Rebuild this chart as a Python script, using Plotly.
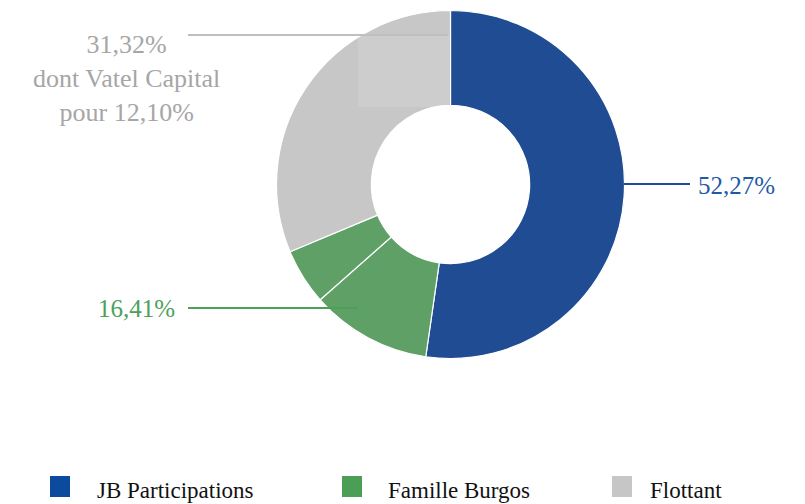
import plotly.graph_objects as go

W, H = 805, 504

# data
labels = ["JB Participations", "Famille Burgos", "Famille Burgos ", "Flottant"]
values = [52.27, 11.20, 5.21, 31.32]
slice_colors = ["#1F4C93", "#5EA066", "#5EA066", "#C7C7C7"]

legend_names = ["JB Participations", "Famille Burgos", "Flottant"]
legend_colors = ["#0B4A9C", "#4A9E55", "#C6C6C6"]

label_jb = "52,27%"
label_burgos = "16,41%"
label_flottant = "31,32%<br>dont Vatel Capital<br>pour 12,10%"

SERIF = "Liberation Serif, Tinos, Nimbus Roman, Noto Serif, DejaVu Serif, FreeSerif, Times, serif"


def px_x(x):
    return x / W


def px_y(y):
    return 1 - y / H


# donut geometry (pixels in the screenshot)
cx, cy, r = 450.5, 184.5, 174

fig = go.Figure(go.Pie(
    labels=labels,
    values=values,
    sort=False,
    direction="clockwise",
    rotation=0,
    hole=0.455,
    marker=dict(colors=slice_colors, line=dict(color="white", width=1.2)),
    textinfo="none",
    hoverinfo="label+percent",
    showlegend=False,
    domain=dict(x=[px_x(cx - r), px_x(cx + r)], y=[px_y(cy + r), px_y(cy - r)]),
))

shapes = [
    # faint lighter patch over the grey slice
    dict(type="rect", xref="paper", yref="paper",
         x0=px_x(358), x1=px_x(449), y0=px_y(107), y1=px_y(35),
         fillcolor="rgba(255,255,255,0.12)", line=dict(width=0), layer="above"),
    # leader lines
    dict(type="line", xref="paper", yref="paper",
         x0=px_x(188), x1=px_x(448), y0=px_y(35), y1=px_y(35),
         line=dict(color="#BFBFBF", width=2)),
    dict(type="line", xref="paper", yref="paper",
         x0=px_x(624), x1=px_x(690), y0=px_y(184), y1=px_y(184),
         line=dict(color="#1F4E96", width=2)),
    dict(type="line", xref="paper", yref="paper",
         x0=px_x(188), x1=px_x(358), y0=px_y(308), y1=px_y(308),
         line=dict(color="#4CA15A", width=2)),
]

annotations = [
    dict(text=label_jb, x=px_x(696), y=px_y(185), xref="paper", yref="paper",
         xanchor="left", yanchor="middle", showarrow=False,
         font=dict(family=SERIF, size=25, color="#1F5AA6")),
    dict(text=label_burgos, x=px_x(177), y=px_y(308), xref="paper", yref="paper",
         xanchor="right", yanchor="middle", showarrow=False,
         font=dict(family=SERIF, size=25, color="#4CA15A")),
    dict(text=label_flottant, x=px_x(126), y=px_y(78), xref="paper", yref="paper",
         xanchor="center", yanchor="middle", showarrow=False, align="center",
         font=dict(family=SERIF, size=26, color="#A6A6A6")),
]

# custom legend at the bottom
leg_sq_x = [50, 342, 612]
leg_tx_x = [95, 386, 648]
for name, col, sx, tx in zip(legend_names, legend_colors, leg_sq_x, leg_tx_x):
    shapes.append(dict(type="rect", xref="paper", yref="paper",
                       x0=px_x(sx), x1=px_x(sx + 20), y0=px_y(497), y1=px_y(476),
                       fillcolor=col, line=dict(width=0)))
    annotations.append(dict(text=name, x=px_x(tx), y=px_y(490), xref="paper", yref="paper",
                            xanchor="left", yanchor="middle", showarrow=False,
                            font=dict(family=SERIF, size=23, color="#111111")))

fig.update_layout(
    width=W, height=H,
    margin=dict(t=0, l=0, r=0, b=0),
    paper_bgcolor="white",
    plot_bgcolor="white",
    shapes=shapes,
    annotations=annotations,
)

# drop the default 8px page margin so the figure fills the window
fig.write_html("out.html", config={"displayModeBar": False},
               post_script="document.body.style.margin = '0';")
